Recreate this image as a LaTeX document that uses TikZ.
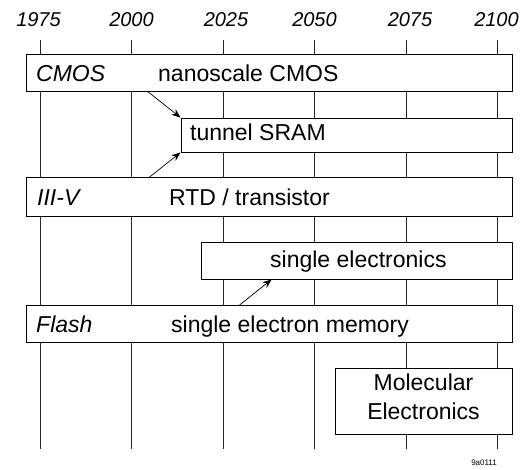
\documentclass[tikz,border=0pt]{standalone}
\usepackage{fontspec}
\setmainfont{Liberation Sans}
\usetikzlibrary{arrows.meta,calc}
\begin{document}
\begin{tikzpicture}[x=1pt,y=-1pt,
  box/.style={draw, line width=0.9pt, fill=white, inner sep=0pt, rectangle},
  lbl/.style={inner sep=0pt, anchor=base west, font=\fontsize{23}{27}\selectfont},
  ilbl/.style={lbl, font=\fontsize{23}{27}\selectfont\itshape},
  year/.style={inner sep=0pt, anchor=base, font=\fontsize{20}{23}\selectfont\itshape},
  grid/.style={line width=0.8pt, black!85},
  arr/.style={-{Stealth[length=9pt,width=7pt]}, line width=0.7pt}]
\useasboundingbox (0,0) rectangle (525,470);
% year labels
\foreach \x/\yr in {38.5/1975,131.5/2000,226/2025,314.5/2050,410/2075,496.5/2100}
  \node[year] at (\x,27) {\yr};
% grid lines
\foreach \x in {40,131,223,314,406,497}
  \draw[grid] (\x,40) -- (\x,449);
% boxes
\node[box, minimum width=486pt, minimum height=37pt] (cmos) at (269,72.5) {};
\node[box, minimum width=331pt, minimum height=34pt] (sram) at (346.5,135) {};
\node[box, minimum width=486pt, minimum height=39pt] (iiiv) at (269,197) {};
\node[box, minimum width=311pt, minimum height=37pt] (set) at (356.5,260.5) {};
\node[box, minimum width=486pt, minimum height=37pt] (flash) at (269,324) {};
\node[box, minimum width=177pt, minimum height=66pt] (mol) at (423.5,401) {};
% labels
\node[ilbl] (tcmos) at (36,82) {CMOS};
\node[lbl] (tnano) at (158,82) {nanoscale CMOS};
\node[lbl] (tsram) at (190,141) {tunnel SRAM};
\node[ilbl] (tiiiv) at (37,206) {III-V};
\node[lbl] (trtd) at (169,206) {RTD / transistor};
\node[lbl] (tset) at (270,268) {single electronics};
\node[ilbl] (tflash) at (36,333) {Flash};
\node[lbl] (tsem) at (171,333) {single electron memory};
\node[lbl, anchor=base] (tmol1) at (423.5,390) {Molecular};
\node[lbl, anchor=base] (tmol2) at (423.5,420) {Electronics};
\node[inner sep=0pt, anchor=base, font=\fontsize{8}{9}\selectfont] (code) at (484,465) {9a0111};
% arrows
\draw[arr] ($(cmos.south west)+(122,0)$) -- (sram.north west);
\draw[arr] ($(iiiv.north west)+(124,0)$) -- (sram.south west);
\draw[arr] ($(flash.north west)+(214,0)$) -- ($(set.south west)+(71,0)$);
\end{tikzpicture}
\end{document}
